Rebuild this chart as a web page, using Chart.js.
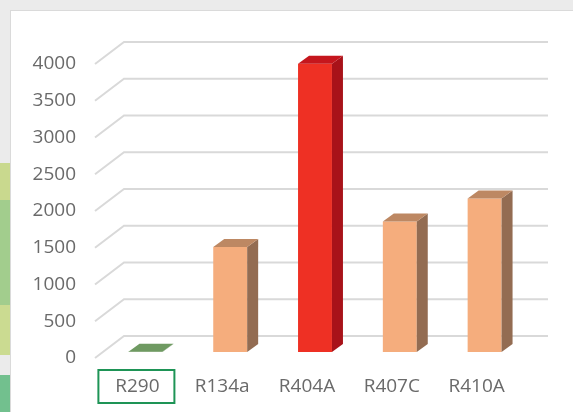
<!DOCTYPE html>
<html>
<head>
<meta charset="utf-8">
<script src="https://cdn.jsdelivr.net/npm/chart.js@4/dist/chart.umd.min.js"></script>
<style>
  html, body { margin: 0; padding: 0; }
  body { width: 573px; height: 412px; background: #ebebeb; position: relative; overflow: hidden; }
  .blob { position: absolute; left: 0; width: 12px; }
  #card { position: absolute; left: 10px; top: 10px; width: 600px; height: 440px; background: #fff; border: 1px solid #dadada; }
  #wrap { position: absolute; left: 0; top: 0; width: 573px; height: 412px; }
</style>
</head>
<body>
<div class="blob" style="top:163px;height:38px;background:#c9d98e"></div>
<div class="blob" style="top:200px;height:105px;background:#a2cd8d"></div>
<div class="blob" style="top:305px;height:50px;background:#cbdb91"></div>
<div class="blob" style="top:375px;height:40px;background:#72c08e"></div>
<div id="card"></div>
<div id="wrap"><canvas id="gwpChart" width="573" height="412"></canvas></div>
<script>
document.addEventListener("DOMContentLoaded", function() {
    // refrigerant GWP values
    const categories = ["R290", "R134a", "R404A", "R407C", "R410A"];
    const gwpValues = [3, 1430, 3922, 1774, 2088];
    const yMax = 4000;
    const yStep = 500;

    const frontColors = ["#6f9a62", "#f5ad7d", "#ee3024", "#f5ad7d", "#f5ad7d"];
    const sideColors  = ["#5e8553", "#936c52", "#a81219", "#936c52", "#936c52"];
    const topColors   = ["#6f9a62", "#bd8863", "#c5161d", "#bd8863", "#bd8863"];

    // perspective offsets
    const FLOOR_DX = 29, FLOOR_DY = -22;
    const BAR_DX = 8, BAR_DY = -6;
    const DEPTH_DX = 11, DEPTH_DY = -8;

    const bar3d = {
        id: "bar3d",
        beforeDatasetsDraw(chart) {
            const ctx = chart.ctx;
            const area = chart.chartArea;
            const y = chart.scales.y;
            ctx.save();
            ctx.strokeStyle = "#d9d9d9";
            ctx.lineWidth = 2;
            y.ticks.forEach(t => {
                const py = y.getPixelForValue(t.value);
                ctx.beginPath();
                ctx.moveTo(area.left, py);
                ctx.lineTo(area.left + FLOOR_DX, py + FLOOR_DY);
                ctx.lineTo(area.right + FLOOR_DX, py + FLOOR_DY);
                ctx.stroke();
            });
            ctx.restore();
        },
        beforeDatasetDraw(chart) {
            chart.ctx.save();
            chart.ctx.translate(BAR_DX, BAR_DY);
        },
        afterDatasetDraw(chart, args) {
            const ctx = chart.ctx;
            const meta = args.meta;
            meta.data.forEach((bar, i) => {
                const l = bar.x - bar.width / 2, r = bar.x + bar.width / 2;
                const top = bar.y, base = bar.base;
                // side face
                ctx.fillStyle = sideColors[i];
                ctx.beginPath();
                ctx.moveTo(r, top);
                ctx.lineTo(r + DEPTH_DX, top + DEPTH_DY);
                ctx.lineTo(r + DEPTH_DX, base + DEPTH_DY);
                ctx.lineTo(r, base);
                ctx.closePath();
                ctx.fill();
                // top face
                ctx.fillStyle = topColors[i];
                ctx.beginPath();
                ctx.moveTo(l, top);
                ctx.lineTo(l + DEPTH_DX, top + DEPTH_DY);
                ctx.lineTo(r + DEPTH_DX, top + DEPTH_DY);
                ctx.lineTo(r, top);
                ctx.closePath();
                ctx.fill();
            });
            ctx.restore();
        },
        afterDraw(chart) {
            // highlight box around the first category label
            const ctx = chart.ctx;
            const cx = chart.scales.x.getPixelForValue(0);
            const area = chart.chartArea;
            ctx.save();
            ctx.strokeStyle = "#1e9456";
            ctx.lineWidth = 2;
            ctx.strokeRect(cx - 39, area.bottom + 12, 76, 33);
            ctx.restore();
        }
    };

    const ctx = document.getElementById("gwpChart").getContext("2d");
    new Chart(ctx, {
        type: "bar",
        data: {
            labels: categories,
            datasets: [{
                data: gwpValues,
                backgroundColor: frontColors,
                borderWidth: 0,
                barPercentage: 0.4,
                categoryPercentage: 1
            }]
        },
        options: {
            responsive: false,
            animation: false,
            layout: { padding: { left: 0, right: 54, top: 64, bottom: 0 } },
            plugins: { legend: { display: false }, tooltip: { enabled: false } },
            scales: {
                x: {
                    grid: { display: false, drawTicks: false },
                    border: { display: false },
                    ticks: { color: "#6a6a6a", font: { family: "Open Sans", size: 19 }, padding: 17 },
                    afterFit: s => { s.height = 54; }
                },
                y: {
                    min: 0,
                    max: yMax,
                    grid: { display: false, drawTicks: false },
                    border: { display: false },
                    ticks: {
                        stepSize: yStep,
                        color: "#6a6a6a",
                        font: { family: "Open Sans", size: 19 },
                        padding: 19,
                        callback: v => String(v)
                    },
                    afterFit: s => { s.width = 95; }
                }
            }
        },
        plugins: [bar3d]
    });
});
</script>
</body>
</html>
